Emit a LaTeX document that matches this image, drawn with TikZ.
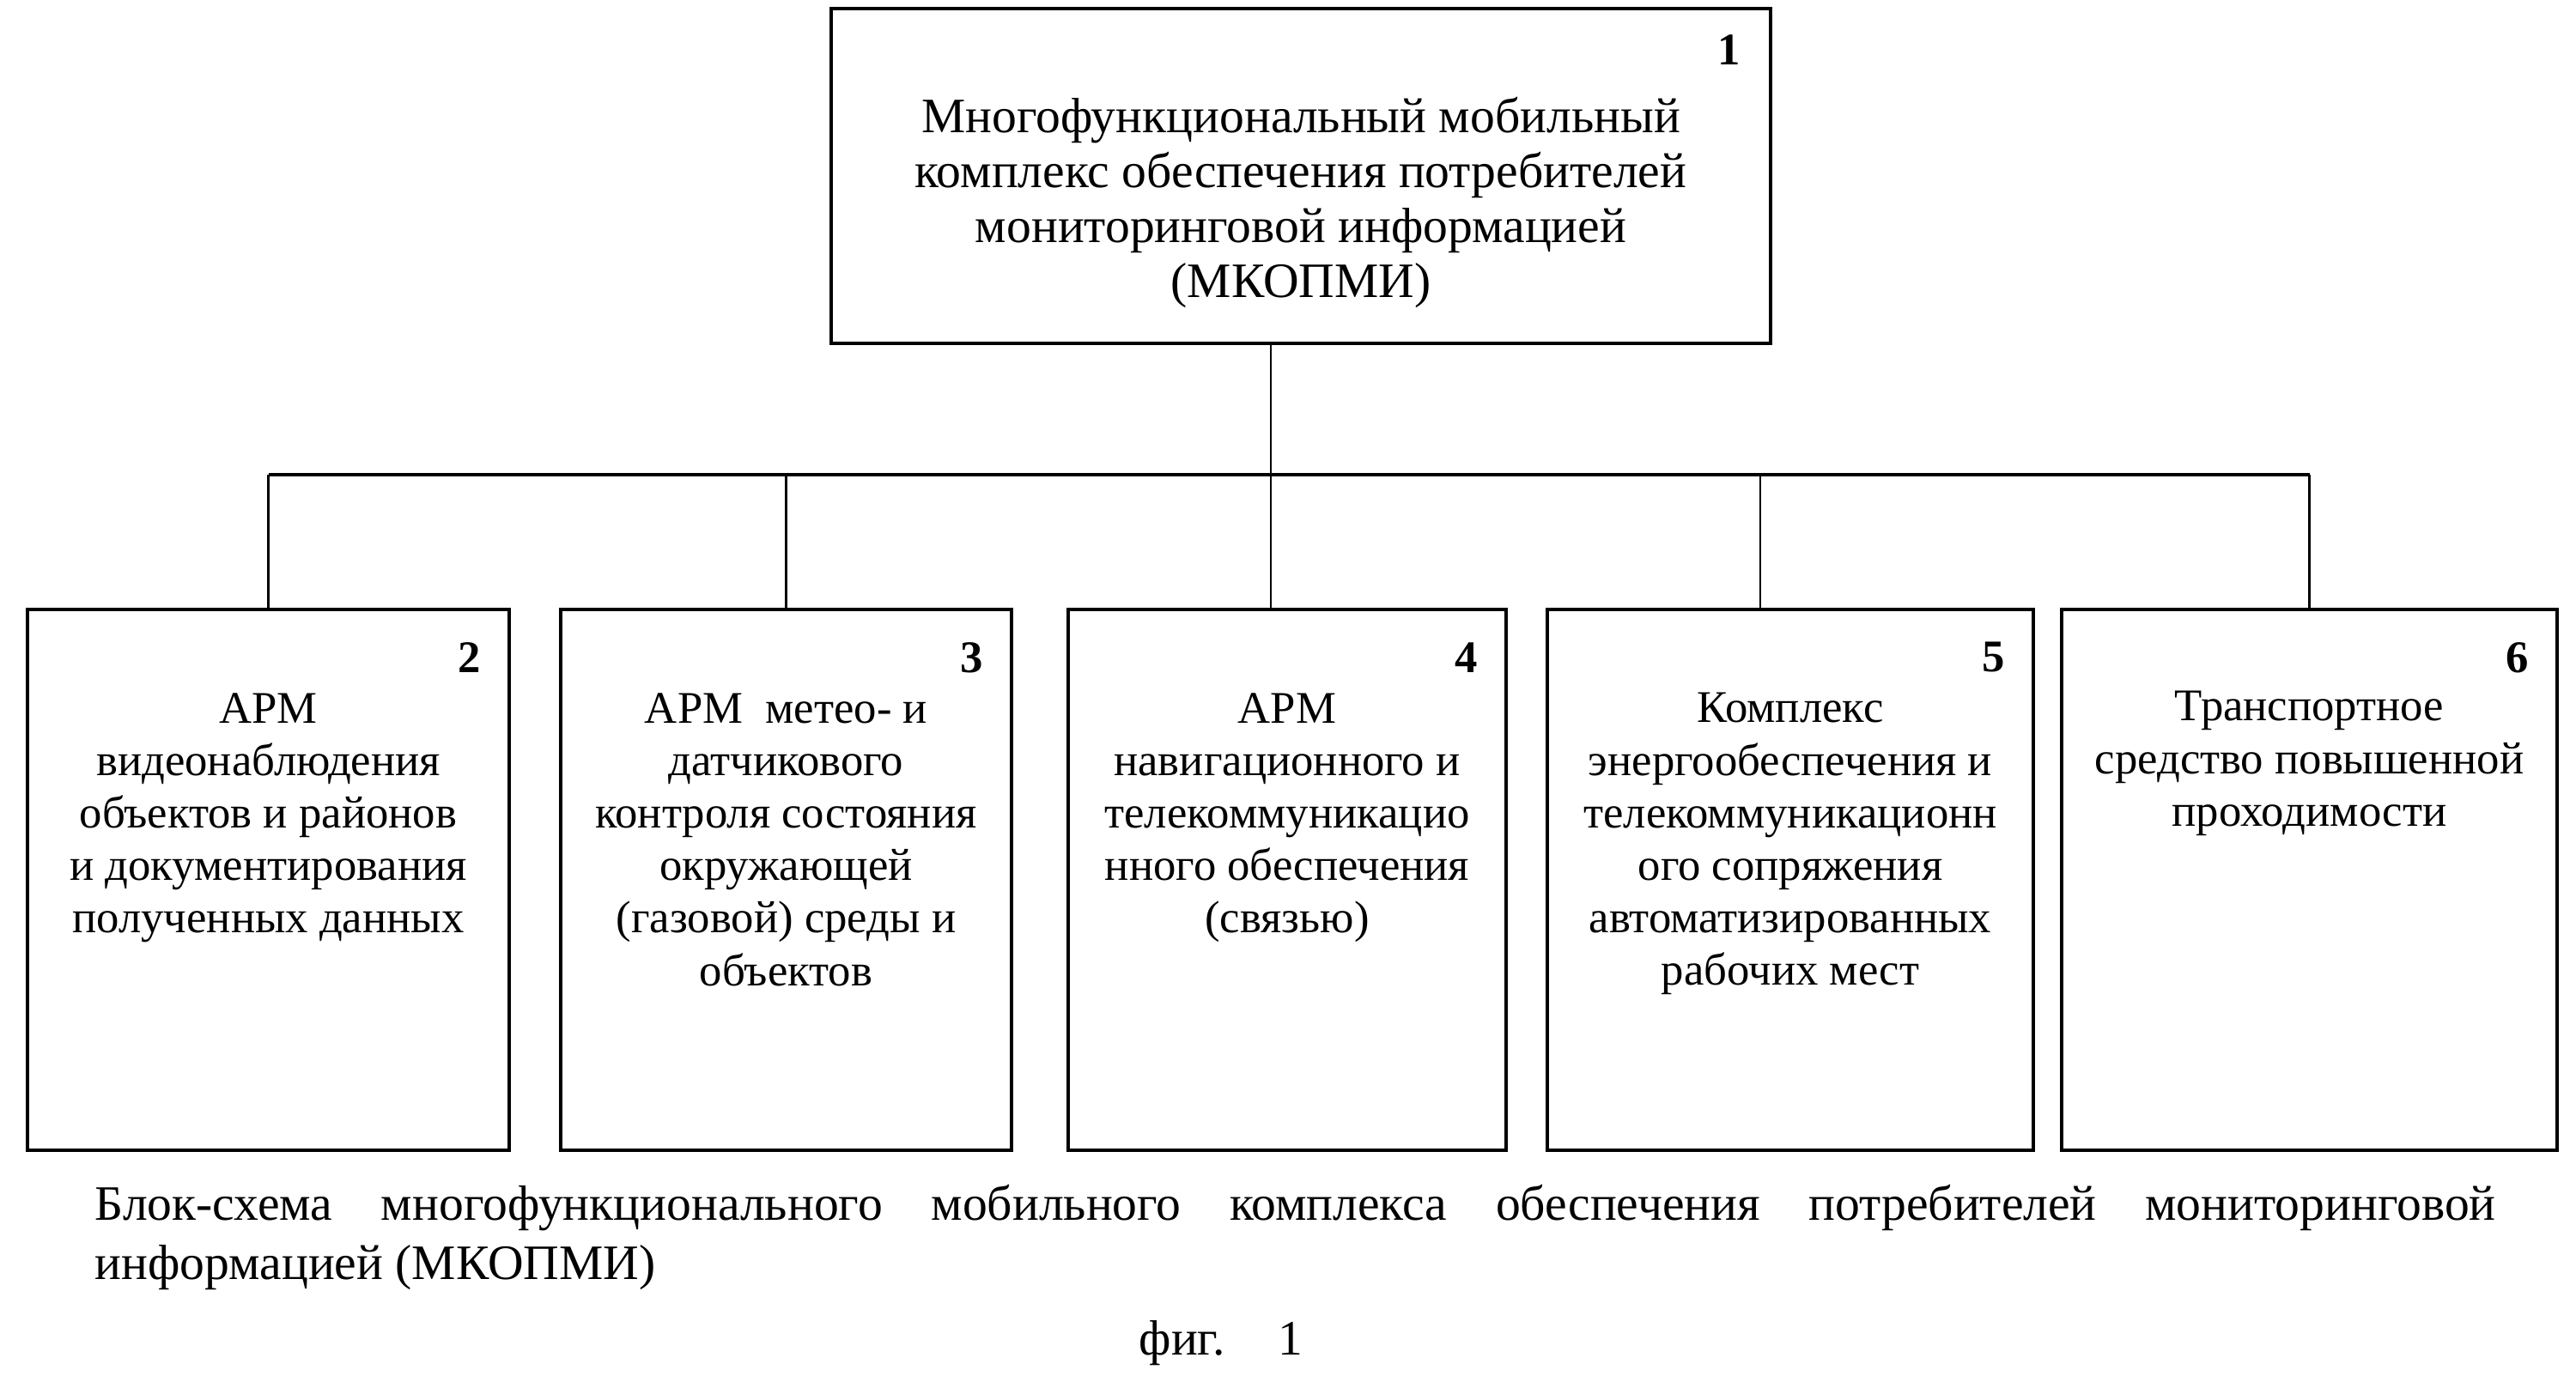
\documentclass[tikz,border=0pt]{standalone}
\usepackage{fontspec}
\setmainfont{Liberation Serif}
\usetikzlibrary{positioning}

\begin{document}
\begin{tikzpicture}[
node distance=0.4cm,
box/.style={draw, line width=1.3pt, inner sep=0pt, minimum height=6.30cm},
label/.style={align=center, inner sep=0pt, font=\fontsize{15}{17.4}\selectfont},
num/.style={inner sep=0pt, font=\fontsize{15}{15}\selectfont\bfseries},
bus/.style={line width=1.2pt},
link/.style={line width=0.6pt}
]
\useasboundingbox (0,0) rectangle (30,-16.02);
\node[draw, line width=1.3pt, inner sep=0pt, minimum width=10.94cm, minimum height=3.90cm] (mk) at (15.15,-2.05) {};
\node[label, font=\fontsize{16.4}{18.2}\selectfont, below=1.05cm of mk.north] (mkt) {Многофункциональный мобильный\\комплекс обеспечения потребителей\\мониторинговой информацией\\(МКОПМИ)};
\node[num, below left=0.32cm and 0.37cm of mk.north east] (n1) {1};

\node[box, minimum width=5.61cm] (b2) at (3.125,-10.25) {};
\node[box, minimum width=5.25cm] (b3) at (9.155,-10.25) {};
\node[box, minimum width=5.10cm] (b4) at (14.99,-10.25) {};
\node[box, minimum width=5.66cm] (b5) at (20.85,-10.25) {};
\node[box, minimum width=5.77cm] (b6) at (26.895,-10.25) {};

\node[label, below=0.99cm of b2.north] (t2) {АРМ\\видеонаблюдения\\объектов и районов\\и документирования\\полученных данных};
\node[label, below=0.99cm of b3.north] (t3) {АРМ\ \ метео- и\\датчикового\\контроля состояния\\окружающей\\(газовой) среды и\\объектов};
\node[label, below=0.99cm of b4.north] (t4) {АРМ\\навигационного и\\телекоммуникацио\\нного обеспечения\\(связью)};
\node[label, below=0.99cm of b5.north] (t5) {Комплекс\\энергообеспечения и\\телекоммуникационн\\ого сопряжения\\автоматизированных\\рабочих мест};
\node[label, below=0.97cm of b6.north] (t6) {Транспортное\\средство повышенной\\проходимости};

\node[num, below left=0.40cm and 0.35cm of b2.north east] (n2) {2};
\node[num, below left=0.40cm and 0.35cm of b3.north east] (n3) {3};
\node[num, below left=0.40cm and 0.35cm of b4.north east] (n4) {4};
\node[num, below left=0.40cm and 0.35cm of b5.north east] (n5) {5};
\node[num, below left=0.40cm and 0.35cm of b6.north east] (n6) {6};

% tree connectors
\coordinate (bus) at (14.80,-5.53);
\draw[link] (bus) -- (bus |- mk.south);
\draw[bus] (b2.north |- bus) -- (b6.north |- bus);
\draw[link] (b2.north |- bus) -- (b2.north);
\draw[link] (b3.north |- bus) -- (b3.north);
\draw[link] (bus) -- (bus |- b4.north);
\draw[link] ([xshift=-0.35cm]b5.north |- bus) -- ([xshift=-0.35cm]b5.north);
\draw[link] (b6.north |- bus) -- (b6.north);

\node[anchor=north west, inner sep=0pt, text width=27.96cm, align=justify, font=\fontsize{16.4}{19.6}\selectfont] (cap) at (1.10,-13.80) {Блок-схема многофункционального мобильного комплекса обеспечения потребителей мониторинговой\linebreak информацией (МКОПМИ)};
\node[anchor=north west, inner sep=0pt, font=\fontsize{16.4}{17}\selectfont] (fig) at (13.26,-15.38) {фиг.\hspace{0.62cm}1};
\end{tikzpicture}
\end{document}
